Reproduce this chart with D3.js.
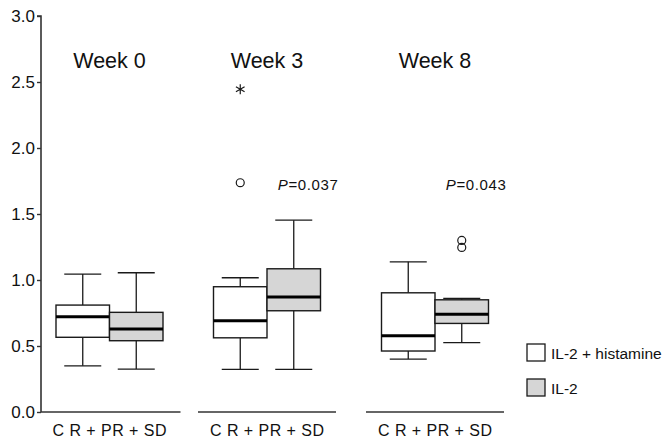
<!DOCTYPE html>
<html>
<head>
<meta charset="utf-8">
<script src="https://cdn.jsdelivr.net/npm/d3@7"></script>
<style>
html,body{margin:0;padding:0;background:#fff;}
svg{display:block;font-family:"Liberation Sans",Arial,Helvetica,sans-serif;}
</style>
</head>
<body>
<svg id="chart" width="663" height="441"></svg>
<script>
// ---- data ----
const weeks = ["Week 0", "Week 3", "Week 8"];
const series = ["IL-2 + histamine", "IL-2"];
const categoryLabel = "C R + PR + SD";
const yTicks = [0.0, 0.5, 1.0, 1.5, 2.0, 2.5, 3.0];
// [lowerWhisker, Q1, median, Q3, upperWhisker] per week
const histamineStats = [
  [0.35, 0.566, 0.721, 0.81, 1.045],
  [0.323, 0.562, 0.691, 0.949, 1.017],
  [0.401, 0.462, 0.578, 0.903, 1.138]
];
const il2Stats = [
  [0.325, 0.54, 0.628, 0.755, 1.055],
  [0.323, 0.767, 0.871, 1.085, 1.453],
  [0.525, 0.671, 0.74, 0.85, 0.861]
];
// outliers
const outlierWeek = ["Week 3", "Week 3", "Week 8", "Week 8"];
const outlierSeries = ["IL-2 + histamine", "IL-2 + histamine", "IL-2", "IL-2"];
const outlierValue = [2.445, 1.737, 1.30, 1.247];
const outlierKind = ["extreme", "outlier", "outlier", "outlier"];
const pWeeks = ["Week 3", "Week 8"];
const pValues = ["0.037", "0.043"];

// ---- layout ----
const svg = d3.select("#chart");
const fills = {"IL-2 + histamine": "#ffffff", "IL-2": "#d6d6d6"};
const axisX = 41;
const groupCenters = [109.5, 267, 435];
const groupHalf = 69;
const y = d3.scaleLinear().domain([0, 3]).range([412, 16]);
const x = d3.scaleOrdinal().domain(weeks).range(groupCenters);
const boxW = 53.5;
const xs = d3.scaleBand().domain(series).range([-boxW, boxW]);
const capW = 37;
const ink = "#1a1a1a";

// y axis
const yAxis = d3.axisLeft(y).tickValues(yTicks).tickFormat(d3.format(".1f")).tickSize(4).tickPadding(2);
const ga = svg.append("g").attr("transform", `translate(${axisX},0)`).call(yAxis);
ga.select(".domain").attr("stroke", "#333").attr("stroke-width", 1.6).attr("d", `M-4,${y(3)}H0V${y(0)}`);
ga.selectAll(".tick line").attr("stroke", "#333").attr("stroke-width", 1.4);
ga.selectAll(".tick text").attr("font-size", 17).attr("fill", "#111")
  .attr("font-family", '"Liberation Sans",Arial,sans-serif');

// group baselines and labels
weeks.forEach((w, i) => {
  const cx = x(w);
  const x0 = i === 0 ? axisX : cx - groupHalf;
  const x1 = cx + groupHalf + (i === 0 ? 2 : 0);
  svg.append("line").attr("x1", x0).attr("x2", x1).attr("y1", y(0)).attr("y2", y(0))
    .attr("stroke", "#333").attr("stroke-width", 1.6);
  svg.append("text").attr("x", cx).attr("y", 436).attr("text-anchor", "middle")
    .attr("font-size", 16).attr("fill", "#111")
    .attr("textLength", 114).attr("lengthAdjust", "spacing").text(categoryLabel);
  svg.append("text").attr("x", cx).attr("y", 68).attr("text-anchor", "middle")
    .attr("font-size", 21.5).attr("fill", "#111").text(w);
});

// boxes
function drawBox(w, s, st) {
  const cx = x(w) + xs(s) + xs.bandwidth() / 2;
  const g = svg.append("g");
  const [lo, q1, med, q3, hi] = st;
  g.append("line").attr("x1", cx).attr("x2", cx).attr("y1", y(q3)).attr("y2", y(hi)).attr("stroke", ink).attr("stroke-width", 1.3);
  g.append("line").attr("x1", cx).attr("x2", cx).attr("y1", y(q1)).attr("y2", y(lo)).attr("stroke", ink).attr("stroke-width", 1.3);
  g.append("line").attr("x1", cx - capW / 2).attr("x2", cx + capW / 2).attr("y1", y(hi)).attr("y2", y(hi)).attr("stroke", ink).attr("stroke-width", 1.3);
  g.append("line").attr("x1", cx - capW / 2).attr("x2", cx + capW / 2).attr("y1", y(lo)).attr("y2", y(lo)).attr("stroke", ink).attr("stroke-width", 1.3);
  g.append("rect").attr("x", cx - xs.bandwidth() / 2).attr("width", xs.bandwidth())
    .attr("y", y(q3)).attr("height", y(q1) - y(q3))
    .attr("fill", fills[s]).attr("stroke", ink).attr("stroke-width", 1.4);
  g.append("line").attr("x1", cx - xs.bandwidth() / 2).attr("x2", cx + xs.bandwidth() / 2)
    .attr("y1", y(med)).attr("y2", y(med)).attr("stroke", "#000").attr("stroke-width", 3);
}
weeks.forEach((w, i) => {
  drawBox(w, series[0], histamineStats[i]);
  drawBox(w, series[1], il2Stats[i]);
});

// outliers
outlierValue.forEach((v, i) => {
  const cx = x(outlierWeek[i]) + xs(outlierSeries[i]) + xs.bandwidth() / 2;
  const sym = outlierKind[i] === "extreme" ? d3.symbol(d3.symbolAsterisk, 70) : d3.symbol(d3.symbolCircle, 50);
  svg.append("path").attr("d", sym()).attr("transform", `translate(${cx},${y(v)})`)
    .attr("fill", "none").attr("stroke", ink).attr("stroke-width", 1.2);
});

// p-values
pWeeks.forEach((w, i) => {
  const cx = x(w) + xs(series[1]) + xs.bandwidth() / 2;
  const t = svg.append("text").attr("x", cx + 14).attr("y", 190).attr("text-anchor", "middle")
    .attr("font-size", 15).attr("fill", "#111")
    .attr("textLength", 60).attr("lengthAdjust", "spacing");
  t.append("tspan").attr("font-style", "italic").text("P");
  t.append("tspan").text("=" + pValues[i]);
});

// legend
series.forEach((s, i) => {
  const ly = 344 + i * 35;
  svg.append("rect").attr("x", 527).attr("y", ly).attr("width", 18).attr("height", 17)
    .attr("fill", fills[s]).attr("stroke", ink).attr("stroke-width", 1.3);
  svg.append("text").attr("x", 551).attr("y", ly + 15).attr("font-size", 15.5).attr("fill", "#111").text(s);
});
</script>
</body>
</html>
